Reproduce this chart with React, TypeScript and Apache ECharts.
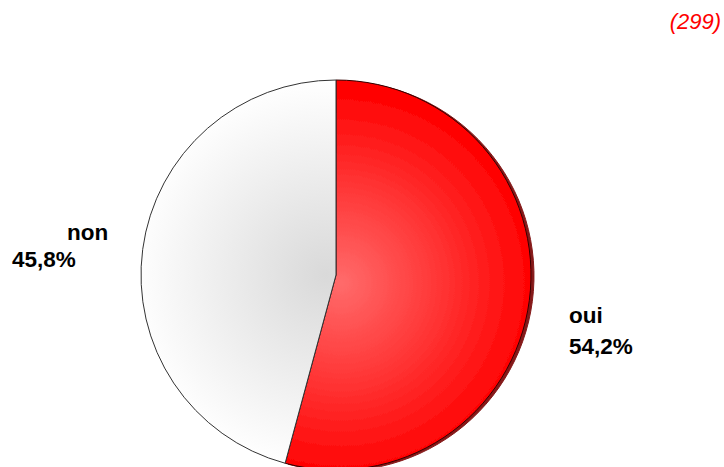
import React, { useEffect, useRef } from "react";
import * as echarts from "echarts";

const categories = ["oui", "non"];
const values = [54.2, 45.8];
const countLabel = "(299)";

export default function App() {
  const ref = useRef<HTMLDivElement>(null);
  useEffect(() => {
    if (!ref.current) return;
    const chart = echarts.init(ref.current, null, { renderer: "svg" });
    const cx = 336;
    const cy = 275;
    const r = 195;
    const fills = [
      new echarts.graphic.RadialGradient(cx + 5, cy + 8, r, [
        { offset: 0, color: "#ff6b6b" },
        { offset: 1, color: "#ff0000" },
      ], true),
      new echarts.graphic.RadialGradient(cx - 10, cy, r, [
        { offset: 0, color: "#d9d9d9" },
        { offset: 1, color: "#ffffff" },
      ], true),
    ];
    const labelPos = [
      { x: 569, y: 300 },
      { x: 12, y: 219 },
    ];
    const option: any = {
      animation: false,
      backgroundColor: "#ffffff",
      graphic: [
        {
          type: "text",
          right: 3,
          top: 10,
          style: {
            text: countLabel,
            fill: "#ff0000",
            font: "italic 22px 'Liberation Sans', Arial, sans-serif",
          },
        },
      ],
      series: [
        {
          type: "pie",
          center: [cx, cy],
          radius: r,
          startAngle: 90,
          clockwise: true,
          silent: true,
          labelLine: { show: false },
          data: categories.map((c, i) => ({
            name: c,
            value: values[i],
            itemStyle: {
              color: fills[i],
              borderColor: i === 0 ? "#300" : "#333",
              borderWidth: 1,
              shadowColor: i === 0 ? "rgba(120,0,0,0.9)" : "rgba(0,0,0,0)",
              shadowBlur: i === 0 ? 1 : 0,
              shadowOffsetX: i === 0 ? 3 : 0,
              shadowOffsetY: i === 0 ? 1 : 0,
            },
            label: {
              show: true,
              position: "outside",
              formatter: (p: any) =>
                "{n|" + p.name + "}\n{p|" + String(p.value).replace(".", ",") + "%}",
              rich: {
                n: {
                  fontFamily: "'Liberation Sans', Arial, sans-serif",
                  fontWeight: "bold",
                  fontSize: 22.5,
                  color: "#000",
                  lineHeight: i === 0 ? 31 : 27,
                  padding: i === 0 ? [0, 0, 0, 0] : [0, 0, 0, 55],
                },
                p: {
                  fontFamily: "'Liberation Sans', Arial, sans-serif",
                  fontWeight: "bold",
                  fontSize: 22.5,
                  color: "#000",
                  lineHeight: i === 0 ? 31 : 27,
                },
              },
            },
          })),
          labelLayout: (params: any) => ({
            x: labelPos[params.dataIndex].x,
            y: labelPos[params.dataIndex].y,
            align: "left",
            verticalAlign: "top",
          }),
        },
      ],
    };
    chart.setOption(option);
    return () => chart.dispose();
  }, []);
  return (
    <div
      ref={ref}
      style={{ position: "absolute", left: 0, top: 0, width: 724, height: 467 }}
    />
  );
}
